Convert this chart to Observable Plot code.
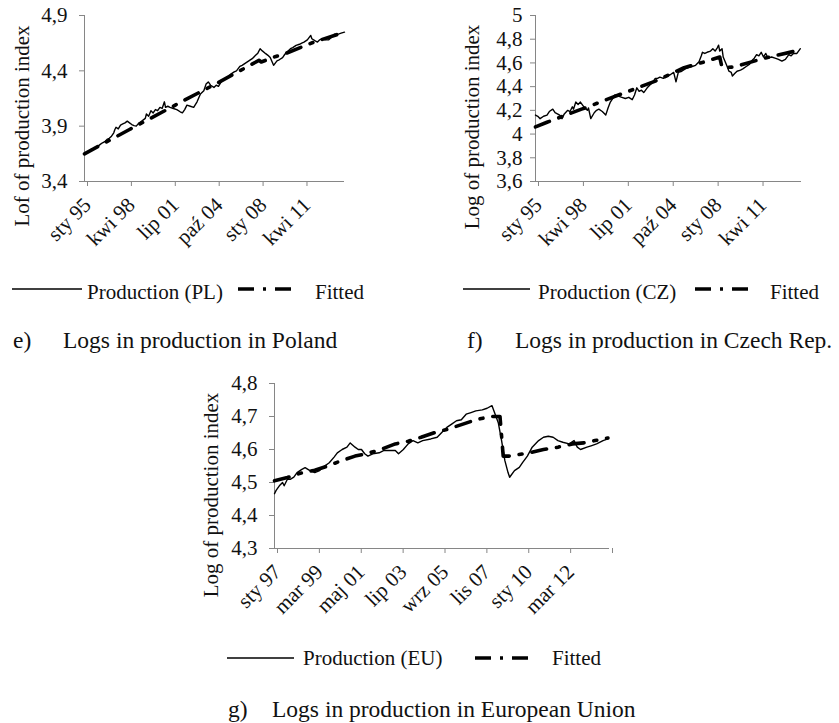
<!DOCTYPE html>
<html><head><meta charset="utf-8">
<script src="https://cdn.jsdelivr.net/npm/d3@7"></script>
<script src="https://cdn.jsdelivr.net/npm/@observablehq/plot@0.6"></script>
<style>
body{margin:0;background:#fff;}
#root{position:relative;width:839px;height:723px;overflow:hidden;background:#fff;font-family:"Liberation Serif","Times New Roman",serif;}
.chart{position:absolute;}
#overlay{position:absolute;left:0;top:0;}
</style></head><body><div id="root"></div>
<script>
// ---------- Poland (months counted from January 1995) ----------
const plMonths = [0,2,4,6,8,10,12,14,16,18,20,22,24,26,27,28,30,32,34,36,38,40,42,44,46,48,50,52,54,55,57,59,61,63,65,67,69,71,72,74,76,79,82,85,87,89,91,94,97,100,103,106,108,110,112,115,117,119,122,125,128,130,133,135,138,140,143,146,149,152,154,156,158,161,163,165,168,171,173,176,178,180,183,185,188,191,193,195,198,201,202,205,207,209,211,214,217,219,222,225,228,231];
const plProduction = [3.655,3.665,3.675,3.69,3.70,3.705,3.72,3.735,3.75,3.76,3.78,3.79,3.81,3.84,3.87,3.89,3.875,3.91,3.92,3.93,3.945,3.93,3.915,3.905,3.90,3.925,3.94,3.955,3.97,4.01,3.99,4.04,4.02,4.05,4.04,4.07,4.06,4.12,4.07,4.08,4.07,4.06,4.05,4.03,4.02,4.05,4.09,4.08,4.07,4.12,4.19,4.22,4.28,4.30,4.27,4.25,4.27,4.26,4.31,4.33,4.35,4.37,4.39,4.40,4.44,4.45,4.47,4.49,4.51,4.54,4.56,4.60,4.58,4.555,4.54,4.52,4.45,4.49,4.50,4.52,4.55,4.57,4.60,4.61,4.63,4.64,4.65,4.66,4.68,4.72,4.69,4.67,4.66,4.68,4.69,4.68,4.68,4.70,4.73,4.73,4.74,4.75];
const plFitMonths = [0,40,88,103,120,138,155,157,170,177,204,231];
const plFitted = [3.65,3.87,4.13,4.21,4.30,4.40,4.495,4.48,4.53,4.55,4.66,4.75];
const plXTicks = [0,39,78,117,156,195];
const plXLabels = ["sty 95","kwi 98","lip 01","paź 04","sty 08","kwi 11"];
const plYTicks = [3.4,3.9,4.4,4.9];

// ---------- Czech Republic (months from January 1995) ----------
const czMonths = [0,2,4,7,10,12,15,17,19,21,23,25,28,30,32,33,35,37,39,42,45,46,48,51,53,55,58,61,63,65,67,69,72,75,78,81,84,86,88,90,92,94,97,100,102,104,106,108,111,114,117,120,122,124,127,130,133,136,139,142,144,145,147,149,152,154,156,158,159,160,162,163,166,168,170,171,173,175,178,180,183,186,188,190,192,194,196,198,200,202,205,208,211,214,217,220,222,224,227,230];
const czProduction = [4.16,4.15,4.13,4.15,4.16,4.19,4.21,4.18,4.17,4.16,4.13,4.17,4.20,4.19,4.23,4.21,4.27,4.25,4.27,4.23,4.20,4.22,4.13,4.18,4.20,4.21,4.19,4.16,4.22,4.27,4.30,4.33,4.32,4.31,4.30,4.31,4.29,4.33,4.39,4.36,4.37,4.35,4.39,4.42,4.44,4.47,4.47,4.48,4.47,4.49,4.50,4.52,4.44,4.52,4.53,4.55,4.56,4.57,4.58,4.61,4.66,4.69,4.68,4.69,4.70,4.72,4.70,4.73,4.75,4.70,4.72,4.65,4.58,4.53,4.52,4.49,4.51,4.53,4.54,4.55,4.57,4.59,4.62,4.64,4.67,4.66,4.69,4.65,4.68,4.64,4.65,4.64,4.63,4.615,4.63,4.67,4.66,4.68,4.68,4.72];
const czFitMonths = [0,10,40,46,56,75,105,129,147,160,162,172,197,210,230];
const czFitted = [4.06,4.10,4.21,4.23,4.27,4.34,4.45,4.56,4.61,4.65,4.56,4.565,4.635,4.665,4.71];
const czXTicks = [0,39,78,117,156,195];
const czXLabels = ["sty 95","kwi 98","lip 01","paź 04","sty 08","kwi 11"];
const czYTicks = [3.6,3.8,4,4.2,4.4,4.6,4.8,5];

// ---------- European Union (months from January 1997) ----------
const euMonths = [0,1,3,5,6,8,10,12,14,17,19,22,25,28,30,34,37,39,42,45,47,50,52,54,56,58,61,65,68,72,75,77,80,83,86,89,92,97,101,104,107,110,113,116,119,122,125,129,132,135,137,139,141,143,145,146,149,152,154,157,160,164,167,170,173,176,179,183,186,188,190,194,197,200,204,207];
const euProduction = [4.466,4.476,4.49,4.50,4.49,4.51,4.51,4.516,4.53,4.54,4.545,4.536,4.53,4.536,4.546,4.56,4.577,4.59,4.60,4.607,4.62,4.607,4.60,4.60,4.587,4.58,4.587,4.59,4.597,4.597,4.597,4.587,4.60,4.617,4.627,4.62,4.627,4.632,4.637,4.652,4.667,4.677,4.687,4.69,4.707,4.712,4.717,4.72,4.725,4.733,4.707,4.68,4.627,4.567,4.53,4.516,4.536,4.546,4.56,4.58,4.607,4.627,4.637,4.64,4.637,4.627,4.622,4.617,4.627,4.607,4.60,4.607,4.612,4.617,4.627,4.632];
const euFitMonths = [0,8,16,25,33,41,50,57,66,75,83,91,100,108,125,134,140,142,146,158,167,176,185,192,199,207];
const euFitted = [4.505,4.515,4.528,4.537,4.55,4.565,4.58,4.587,4.60,4.617,4.625,4.637,4.652,4.662,4.69,4.70,4.70,4.58,4.58,4.59,4.60,4.607,4.617,4.62,4.627,4.635];
const euXTicks = [0,26,52,78,104,130,156,182,208];
const euXLabels = ["sty 97","mar 99","maj 01","lip 03","wrz 05","lis 07","sty 10","mar 12",""];
const euYTicks = [4.3,4.4,4.5,4.6,4.7,4.8];

const FONT = '"Liberation Serif", "Times New Roman", serif';
const AXIS = "#868686";
const INK = "#111";

function makeChart(c) {
  const prod = c.months.map((m, i) => ({m, v: c.prod[i]}));
  const fit = c.fitMonths.map((m, i) => ({m, v: c.fit[i]}));
  return Plot.plot({
    width: c.width, height: c.height,
    marginLeft: c.ml, marginRight: c.mr, marginTop: c.mt, marginBottom: c.mb,
    style: {fontFamily: FONT, fontSize: "21px", color: INK, background: "transparent", overflow: "visible"},
    x: {type: "linear", domain: c.xDomain},
    y: {type: "linear", domain: c.yDomain},
    marks: [
      Plot.axisY(c.yTicks, {tickSize: 5, tickPadding: c.yPad, stroke: AXIS, fill: INK, fontSize: 21,
        fontFamily: FONT, tickFormat: d => String(d).replace(".", ","), label: null}),
      Plot.axisX(c.xTicks, {tickSize: 5, tickPadding: 15, dx: 3, tickRotate: -45, stroke: AXIS, fill: INK, fontSize: 21,
        fontFamily: FONT, tickFormat: d => c.xLabels[c.xTicks.indexOf(d)] || "", label: null}),
      Plot.ruleX([c.xDomain[0]], {stroke: AXIS, strokeWidth: 1}),
      Plot.ruleY([c.yDomain[0]], {stroke: AXIS, strokeWidth: 1}),
      Plot.line(prod, {x: "m", y: "v", stroke: "#000", strokeWidth: 1.4}),
      Plot.line(fit, {x: "m", y: "v", stroke: "#000", strokeWidth: 3.6, strokeDasharray: "15,10,3,10"})
    ]
  });
}

const root = document.getElementById("root");
function place(el, left, top) {
  const w = document.createElement("div");
  w.className = "chart"; w.style.left = left + "px"; w.style.top = top + "px";
  w.appendChild(el); root.appendChild(w);
}

place(makeChart({months: plMonths, prod: plProduction, fitMonths: plFitMonths, fit: plFitted,
  xDomain: [0, 231], yDomain: [3.4, 4.9], xTicks: plXTicks, xLabels: plXLabels, yTicks: plYTicks,
  width: 360, height: 260, ml: 84, mr: 16, mt: 15, mb: 79, yPad: 12}), 0, 0);

place(makeChart({months: czMonths, prod: czProduction, fitMonths: czFitMonths, fit: czFitted,
  xDomain: [0, 231], yDomain: [3.6, 5], xTicks: czXTicks, xLabels: czXLabels, yTicks: czYTicks,
  width: 400, height: 260, ml: 115, mr: 19, mt: 15, mb: 79, yPad: 8}), 420, 0);

place(makeChart({months: euMonths, prod: euProduction, fitMonths: euFitMonths, fit: euFitted,
  xDomain: [0, 208], yDomain: [4.3, 4.8], xTicks: euXTicks, xLabels: euXLabels, yTicks: euYTicks,
  width: 440, height: 260, ml: 84, mr: 21, mt: 23, mb: 72, yPad: 12}), 190, 360);

// ---------- axis titles, legends and captions ----------
const yTitles = [
  {text: "Lof of production index", cx: 22, cy: 126},
  {text: "Log of production index", cx: 472, cy: 127},
  {text: "Log of production index", cx: 211, cy: 495}
];
const legends = [
  {y: 289, base: 299, s1: 12, s2: 82, label: "Production (PL)", lx: 87, d1: 238, d2: 291, fx: 315},
  {y: 289, base: 299, s1: 463, s2: 530, label: "Production (CZ)", lx: 538, d1: 695, d2: 749, fx: 770},
  {y: 658, base: 665, s1: 227, s2: 294, label: "Production (EU)", lx: 303, d1: 475, d2: 529, fx: 552}
];
const captions = [
  {tag: "e)", tx: 13, lx: 63, y: 348, text: "Logs in production in Poland"},
  {tag: "f)", tx: 467, lx: 515, y: 348, text: "Logs in production in Czech Rep."},
  {tag: "g)", tx: 228, lx: 272, y: 717, text: "Logs in production in European Union"}
];
const svg = d3.select(root).append("svg").attr("id", "overlay").attr("width", 839).attr("height", 723)
  .style("font-family", FONT).style("pointer-events", "none");
for (const T of yTitles) {
  svg.append("text").attr("transform", `translate(${T.cx},${T.cy}) rotate(-90)`)
    .attr("text-anchor", "middle").attr("dy", "0.35em").attr("font-size", 21).attr("fill", INK).text(T.text);
}
for (const L of legends) {
  svg.append("line").attr("x1", L.s1).attr("x2", L.s2).attr("y1", L.y).attr("y2", L.y).attr("stroke", "#000").attr("stroke-width", 1.5);
  svg.append("text").attr("x", L.lx).attr("y", L.base).attr("font-size", 21).attr("fill", INK).text(L.label);
  svg.append("line").attr("x1", L.d1).attr("x2", L.d2).attr("y1", L.y).attr("y2", L.y).attr("stroke", "#000").attr("stroke-width", 3.6).attr("stroke-dasharray", "16,9,3,9");
  svg.append("text").attr("x", L.fx).attr("y", L.base).attr("font-size", 21).attr("fill", INK).text("Fitted");
}
for (const C of captions) {
  svg.append("text").attr("x", C.tx).attr("y", C.y).attr("font-size", 23.5).attr("fill", INK).text(C.tag);
  svg.append("text").attr("x", C.lx).attr("y", C.y).attr("font-size", 23.5).attr("fill", INK).text(C.text);
}
</script></body></html>
